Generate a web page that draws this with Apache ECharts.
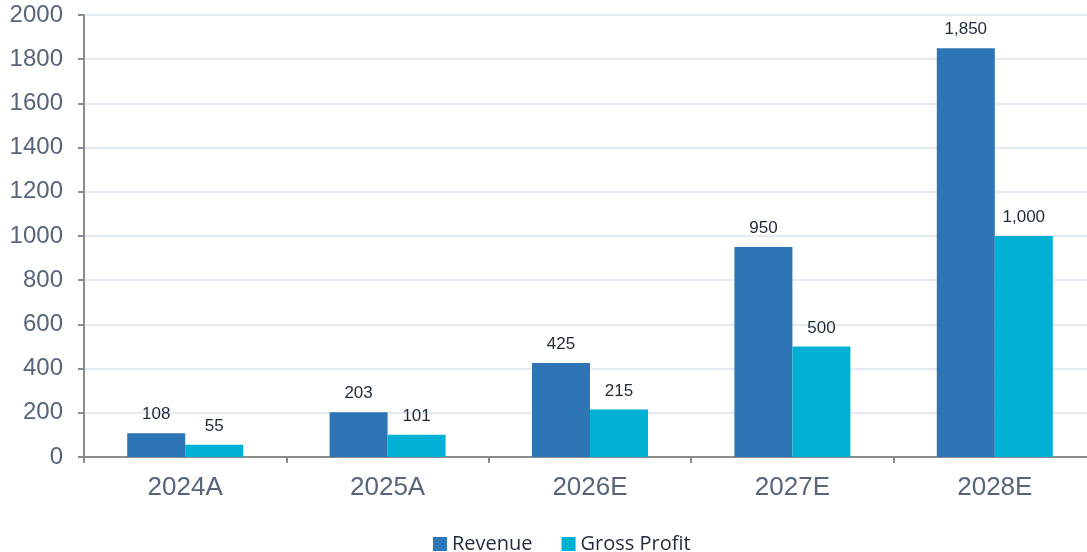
<!DOCTYPE html>
<html>
<head>
<meta charset="utf-8">
<script src="https://cdn.jsdelivr.net/npm/echarts@6/dist/echarts.min.js"></script>
<style>
	html, body { margin: 0; padding: 0; background: #fff; }
	#chart { width: 1087px; height: 552px; }
</style>
</head>
<body>
<div id="chart"></div>
<script>
	const categories = ["2024A", "2025A", "2026E", "2027E", "2028E"];
	const revenue = [108, 203, 425, 950, 1850];
	const grossProfit = [55, 101, 215, 500, 1000];

	const chart = echarts.init(document.getElementById("chart"));

	const labelStyle = {
		show: true,
		position: "top",
		distance: 10,
		color: "#1f2a38",
		fontFamily: "Liberation Sans, Arial, sans-serif",
		fontSize: 17,
		formatter: p => p.value.toLocaleString("en-US")
	};

	chart.setOption({
		animation: false,
		grid: {
			left: 84,
			top: 15,
			width: 1012,
			height: 442,
			outerBoundsMode: "none"
		},
		legend: {
			top: 529,
			left: 428,
			itemWidth: 14,
			itemHeight: 14,
			itemGap: 29,
			icon: "rect",
			textStyle: {
				color: "#1f2a3c",
				fontFamily: "Open Sans, sans-serif",
				fontSize: 20
			},
			data: ["Revenue", "Gross Profit"]
		},
		xAxis: {
			type: "category",
			data: categories,
			axisLine: { lineStyle: { color: "#8c8c8c", width: 2 } },
			axisTick: { show: true, length: 6, lineStyle: { color: "#8c8c8c", width: 2 } },
			axisLabel: {
				color: "#56657a",
				fontFamily: "Liberation Sans, Arial, sans-serif",
				fontSize: 26,
				margin: 18
			}
		},
		yAxis: {
			type: "value",
			min: 0,
			max: 2000,
			interval: 200,
			axisLine: { show: true, lineStyle: { color: "#8c8c8c", width: 2 } },
			axisTick: { show: true, length: 6, lineStyle: { color: "#8c8c8c", width: 2 } },
			axisLabel: {
				color: "#56657a",
				fontFamily: "Liberation Sans, Arial, sans-serif",
				fontSize: 24,
				margin: 21,
				formatter: v => String(v)
			},
			splitLine: { lineStyle: { color: "#dde4ee", width: 1.5 } }
		},
		series: [
			{
				name: "Revenue",
				type: "bar",
				barWidth: 58,
				barGap: "0%",
				data: revenue,
				itemStyle: { color: "#2e75b6" },
				label: labelStyle
			},
			{
				name: "Gross Profit",
				type: "bar",
				barWidth: 58,
				barGap: "0%",
				data: grossProfit,
				itemStyle: { color: "#00b1d6" },
				label: labelStyle
			}
		]
	});
</script>
</body>
</html>
